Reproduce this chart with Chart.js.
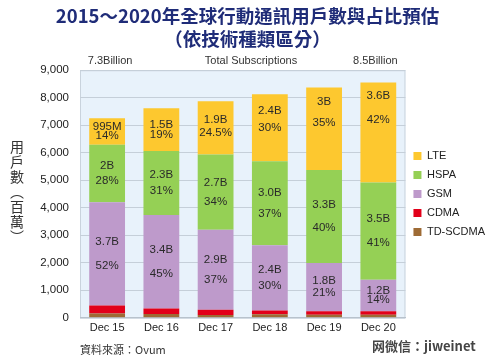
<!DOCTYPE html>
<html>
<head>
<meta charset="utf-8">
<script src="https://cdn.jsdelivr.net/npm/chart.js@4"></script>
<style>
  html, body { margin: 0; padding: 0; background: #fff; }
  #wrap { width: 500px; height: 360px; position: relative; }
</style>
</head>
<body>
<div id="wrap"><canvas id="subsChart"></canvas></div>
<script>
//Data (millions of subscriptions)
const categories = ['Dec 15', 'Dec 16', 'Dec 17', 'Dec 18', 'Dec 19', 'Dec 20'];
const tdscdma = [155, 135, 100, 125, 110, 110];
const cdma = [290, 200, 190, 140, 130, 130];
const gsm = [3760, 3400, 2915, 2370, 1750, 1145];
const hspa = [2090, 2330, 2730, 3060, 3380, 3530];
const lte = [960, 1550, 1940, 2430, 3000, 3640];

//Labels inside the segments
const lteLabels = [['995M', '14%'], ['1.5B', '19%'], ['1.9B', '24.5%'], ['2.4B', '30%'], ['3B', '35%'], ['3.6B', '42%']];
const hspaLabels = [['2B', '28%'], ['2.3B', '31%'], ['2.7B', '34%'], ['3.0B', '37%'], ['3.3B', '40%'], ['3.5B', '41%']];
const gsmLabels = [['3.7B', '52%'], ['3.4B', '45%'], ['2.9B', '37%'], ['2.4B', '30%'], ['1.8B', '21%'], ['1.2B', '14%']];

const yTicks = [0, 1000, 2000, 3000, 4000, 5000, 6000, 7000, 8000, 9000];
const topNotes = ['7.3Billion', 'Total Subscriptions', '8.5Billion'];

const FONT = '"Liberation Sans", Arial, sans-serif';
const CJK = '"Noto Sans CJK TC", "Noto Sans CJK SC", sans-serif';

//Plot background
const plotBg = {
    id: 'plotBg',
    beforeDraw(chart) {
        const { ctx, chartArea: a } = chart;
        ctx.save();
        ctx.fillStyle = '#E8F2FB';
        ctx.fillRect(a.left, a.top, a.right - a.left, a.bottom - a.top);
        ctx.strokeStyle = '#C9D3DD';
        ctx.lineWidth = 1;
        ctx.strokeRect(a.left + 0.5, a.top + 0.5, a.right - a.left - 1, a.bottom - a.top);
        ctx.restore();
    }
};

//Texts on segments, notes, axis title, source
const extras = {
    id: 'extras',
    afterDatasetsDraw(chart) {
        const { ctx, chartArea: a } = chart;
        ctx.save();
        ctx.font = '11.5px ' + FONT;
        ctx.fillStyle = '#2a2a2a';
        ctx.textAlign = 'center';
        ctx.textBaseline = 'middle';
        chart.data.datasets.forEach((ds, di) => {
            if (!ds.segLabels) return;
            chart.getDatasetMeta(di).data.forEach((bar, i) => {
                const top = Math.min(bar.y, bar.base);
                const h = Math.abs(bar.base - bar.y);
                const gap = Math.max(9, Math.min(24, h * 0.25));
                let cy = top + h / 2;
                if (ds.label === 'LTE') cy = Math.min(cy, top + 25);
                const lines = ds.segLabels[i];
                ctx.fillText(lines[0], bar.x, cy - gap / 2);
                ctx.fillText(lines[1], bar.x, cy + gap / 2);
            });
        });

        //Notes above the bars
        const meta = chart.getDatasetMeta(0).data;
        ctx.font = '11px ' + FONT;
        ctx.fillStyle = '#333';
        ctx.fillText(topNotes[0], meta[0].x + 3, a.top - 9);
        ctx.fillText(topNotes[1], 251, a.top - 9);
        ctx.fillText(topNotes[2], meta[meta.length - 1].x - 3, a.top - 9);

        //Vertical axis title
        ctx.font = '14px ' + CJK;
        ctx.fillStyle = '#333';
        const chars = ['用', '戶', '數', '︵', '百', '萬', '︶'];
        chars.forEach((c, i) => ctx.fillText(c, 17, 147 + i * 15));

        //Source and watermark
        ctx.textAlign = 'left';
        ctx.font = '11px ' + CJK;
        ctx.fillText('資料來源：Ovum', 80, 350);
        ctx.font = 'bold 13px ' + CJK;
        ctx.fillStyle = '#444';
        ctx.fillText('网微信：jiweinet', 372, 346);
        ctx.restore();
    }
};

const data = {
    labels: categories,
    datasets: [
        { label: 'TD-SCDMA', data: tdscdma, backgroundColor: '#9E6B35' },
        { label: 'CDMA', data: cdma, backgroundColor: '#E2001A' },
        { label: 'GSM', data: gsm, backgroundColor: '#BE9ACB', segLabels: gsmLabels },
        { label: 'HSPA', data: hspa, backgroundColor: '#95D055', segLabels: hspaLabels },
        { label: 'LTE', data: lte, backgroundColor: '#FDC82F', segLabels: lteLabels }
    ]
};

const options = {
    responsive: true,
    maintainAspectRatio: false,
    animation: false,
    layout: { padding: { top: 0, left: 0, right: 5, bottom: 21 } },
    datasets: { bar: { barPercentage: 0.66, categoryPercentage: 1 } },
    scales: {
        x: {
            stacked: true,
            grid: { display: false, drawTicks: false },
            border: { display: true, color: '#B8C2CC' },
            ticks: { color: '#222', font: { size: 11, family: FONT }, padding: 4 }
        },
        y: {
            stacked: true,
            min: 0,
            max: 9000,
            afterBuildTicks: axis => { axis.ticks = yTicks.map(v => ({ value: v })); },
            afterFit: axis => { axis.width = 80; },
            grid: { color: '#C5CFD9', drawTicks: false },
            border: { display: false },
            ticks: {
                color: '#222',
                font: { size: 11.5, family: FONT },
                padding: 11,
                callback: v => v.toLocaleString('en-US')
            }
        }
    },
    plugins: {
        title: {
            display: true,
            text: ['2015～2020年全球行動通訊用戶數與占比預估', '（依技術種類區分）'],
            color: '#1F2C78',
            font: { size: 18.5, weight: 'bold', family: CJK, lineHeight: 1.25 },
            padding: { top: 4, bottom: 20 }
        },
        legend: {
            position: 'right',
            fullSize: false,
            reverse: true,
            labels: {
                boxWidth: 8,
                boxHeight: 8,
                padding: 8,
                color: '#222',
                font: { size: 11, family: FONT }
            }
        },
        tooltip: { enabled: false }
    }
};

new Chart(document.getElementById('subsChart').getContext('2d'), {
    type: 'bar',
    data: data,
    options: options,
    plugins: [plotBg, extras]
});
</script>
</body>
</html>
